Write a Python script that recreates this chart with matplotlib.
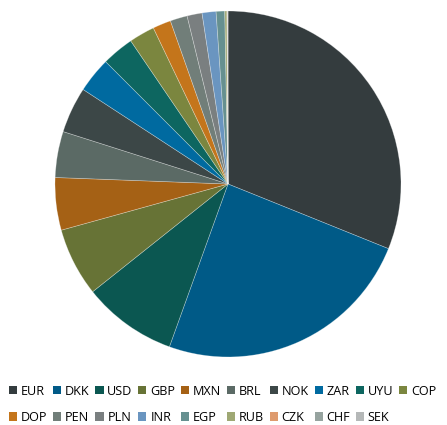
import matplotlib
matplotlib.use("Agg")
import matplotlib.pyplot as plt
from matplotlib.patches import Patch

plt.rcParams['font.family'] = ['Open Sans', 'DejaVu Sans']

labels = ["EUR", "DKK", "USD", "GBP", "MXN", "BRL", "NOK", "ZAR", "UYU", "COP",
          "DOP", "PEN", "PLN", "INR", "EGP", "RUB", "CZK", "CHF", "SEK"]
values = [31.1, 24.4, 8.8, 6.4, 4.9, 4.3, 4.3, 3.3, 3.0, 2.4,
          1.7, 1.6, 1.4, 1.3, 0.8, 0.2, 0.05, 0.03, 0.02]
colors = ["#343c3e", "#005a87", "#0b5751", "#677336", "#a56115", "#5b6a65",
          "#3c4747", "#006aa0", "#0d6660", "#7b863f", "#c4751b", "#717e79",
          "#7a7f80", "#6a95c0", "#669090", "#9fa874", "#de9b6e", "#96a39f",
          "#b5b8b8"]

fig = plt.figure(figsize=(4.47, 4.25), dpi=100)
ax = fig.add_axes([(228 - 173) / 447, 1 - (184 + 173) / 425, 346 / 447, 346 / 425])
ax.pie(values, colors=colors, startangle=90, counterclock=False,
       wedgeprops=dict(edgecolor=(1, 1, 1, 0.35), linewidth=0.5))
ax.set_xlim(-1, 1)
ax.set_ylim(-1, 1)
ax.set_aspect('equal')

# row-major ordering for a 2-row legend (matplotlib fills column-wise)
n = len(labels)
order = []
for i in range(10):
    order.append(i)
    if i + 10 < n:
        order.append(i + 10)
handles = [Patch(facecolor=colors[i], edgecolor='none') for i in order]
leg_labels = [labels[i] for i in order]
fig.legend(handles, leg_labels, ncol=10, loc='upper left',
           bbox_to_anchor=(0.014, 1 - 382 / 425), frameon=False,
           fontsize=9.1, handlelength=0.65, handleheight=0.65,
           handletextpad=0.3, columnspacing=0.45, labelspacing=1.05,
           borderaxespad=0, borderpad=0.2)

fig.savefig("out.png", dpi=100)
